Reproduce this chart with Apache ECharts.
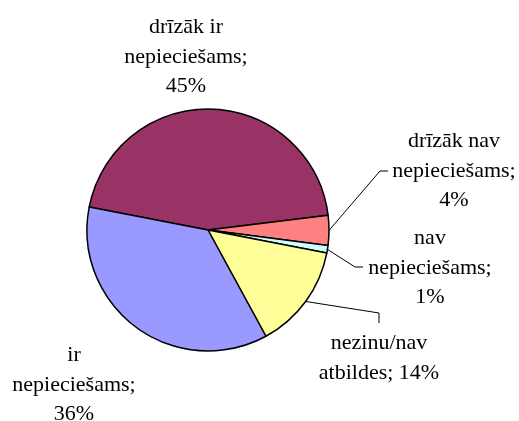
<!DOCTYPE html>
<html>
<head>
<meta charset="utf-8">
<script src="https://cdn.jsdelivr.net/npm/echarts@6/dist/echarts.min.js"></script>
<style>
  html, body { margin: 0; padding: 0; background: #fff; }
  #main { width: 519px; height: 421px; }
</style>
</head>
<body>
<div id="main"></div>
<script>
var categories = ['drīzāk ir\nnepieciešams', 'drīzāk nav\nnepieciešams', 'nav\nnepieciešams', 'nezinu/nav\natbildes', 'ir\nnepieciešams'];
var values = [45, 4, 1, 14, 36];
var colors = ['#993366', '#ff8080', '#ccffff', '#ffff99', '#9999ff'];

// label placement: text block centre, separator before the percent, leader line bend/end
var labelPos = [
  { x: 186, y: 57, sep: '\n', line: null },
  { x: 454, y: 171, sep: '\n', line: [[380, 171], [388, 171]] },
  { x: 430, y: 268, sep: '\n', line: [[355, 267], [363, 267]] },
  { x: 379, y: 358, sep: ' ', line: [[379, 313], [379, 323]] },
  { x: 74, y: 385, sep: '\n', line: null }
];

var data = values.map(function (v, i) {
  return {
    value: v,
    name: categories[i],
    itemStyle: { color: colors[i] },
    labelLine: { show: !!labelPos[i].line }
  };
});

var option = {
  animation: false,
  series: [
    {
      type: 'pie',
      center: [208, 230],
      radius: 121,
      startAngle: 169,
      clockwise: true,
      data: data,
      itemStyle: { borderColor: '#000', borderWidth: 1.5 },
      emphasis: { disabled: true },
      label: {
        show: true,
        position: 'outside',
        fontFamily: '"Liberation Serif", "Times New Roman", serif',
        fontSize: 22,
        lineHeight: 29.5,
        color: '#000',
        align: 'center',
        overflow: 'none',
        formatter: function (p) {
          return p.name + ';' + labelPos[p.dataIndex].sep + p.value + '%';
        }
      },
      labelLine: {
        show: true,
        length: 10,
        length2: 10,
        lineStyle: { color: '#000', width: 1 }
      },
      labelLayout: function (params) {
        var lp = labelPos[params.dataIndex];
        var res = { x: lp.x, y: lp.y, align: 'center', verticalAlign: 'middle' };
        if (lp.line && params.labelLinePoints) {
          res.labelLinePoints = [params.labelLinePoints[0], lp.line[0], lp.line[1]];
        }
        return res;
      }
    }
  ]
};

var myChart = echarts.init(document.getElementById('main'));
myChart.setOption(option);
</script>
</body>
</html>
